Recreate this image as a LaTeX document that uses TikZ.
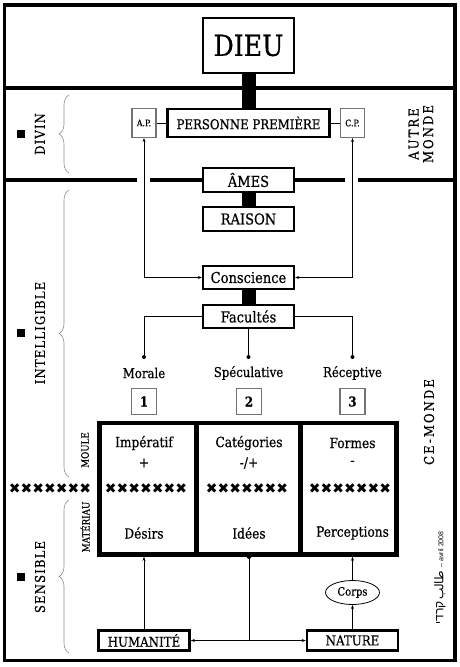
\documentclass[tikz,border=0pt]{standalone}
\usepackage{fontspec}
\setmainfont[FakeStretch=0.87,FakeBold=0.5]{DejaVu Serif}
\newfontfamily\spacedfont[LetterSpace=8,FakeStretch=0.87,FakeBold=0.4]{DejaVu Serif}
\newfontfamily\widefont[LetterSpace=15,FakeStretch=0.87,FakeBold=0.4]{DejaVu Serif}
\newfontfamily\symfont{DejaVu Sans}
\newfontfamily\arabicfont[Script=Arabic]{DejaVu Sans}
\newfontfamily\hebfont[Script=Hebrew]{Liberation Sans}
\newfontfamily\sigsans{Liberation Sans}
\usetikzlibrary{arrows.meta,decorations.pathreplacing,shapes.geometric}
\TeXXeTstate=1
\newcommand\fsz[1]{\fontsize{#1}{#1}\selectfont}
\begin{document}
\begin{tikzpicture}[x=1pt,y=-1pt,
  mainbox/.style={draw, line width=2.2pt, fill=white, minimum width=91pt, inner sep=0pt, font=\fsz{15}},
  smallbox/.style={draw=black!55, line width=1.1pt, fill=white, inner sep=0pt, minimum width=24pt},
  basebox/.style={draw, line width=2.5pt, fill=white, minimum width=91pt, minimum height=20pt, inner sep=0pt, font=\fsz{13.6}},
  bar/.style={line width=14pt},
  conn/.style={line width=0.7pt},
  both/.style={{Stealth[length=4pt,width=3pt]}-{Stealth[length=4pt,width=3pt]}},
  one/.style={-{Stealth[length=4pt,width=3pt]}},
  lbl/.style={font=\fsz{13.5}, inner sep=0pt},
  side/.style={rotate=90, font=\spacedfont\fsz{13.5}, inner sep=0pt},
  wside/.style={rotate=90, font=\widefont\fsz{13.5}, inner sep=0pt},
  brc/.style={draw=black!45, line width=0.6pt, decorate, decoration={brace, amplitude=10pt}},
  crosses/.style={font=\symfont\fsz{14}, inner sep=0pt},
  celltext/.style={font=\fsz{14}, inner sep=0pt}
]
\useasboundingbox (0,0) rectangle (460,667);
\fill[white] (0,0) rectangle (460,667);
% frame
\draw[line width=3.5pt] (4.5,5) rectangle (455,660.5);
\draw[line width=3.5pt] (4.5,88) -- (455,88);
\draw[line width=4pt] (4.5,180) -- (137,180);
\draw[line width=4pt] (150,180) -- (203,180);
\draw[line width=4pt] (294,180) -- (345,180);
\draw[line width=4pt] (358,180) -- (455,180);
% top column nodes
\node[mainbox, minimum height=55pt, font=\fsz{29}] (dieu) at (248.5,45.5) {DIEU};
\node[mainbox, minimum width=162pt, minimum height=28pt, font=\fsz{13.5}] (pp) at (248.5,123) {PERSONNE PREMIÈRE};
\node[smallbox, minimum height=29pt, font=\fsz{9}] (ap) at (144,123) {A.P.};
\node[smallbox, minimum height=29pt, font=\fsz{9}] (cp) at (352.5,123) {C.P.};
\node[mainbox, minimum height=24pt] (ames) at (248.5,180) {ÂMES};
\node[mainbox, minimum height=24pt] (raison) at (248.5,219) {RAISON};
\node[mainbox, minimum height=23pt] (cons) at (248.5,277.5) {Conscience};
\node[mainbox, minimum height=23pt] (fac) at (248.5,316.5) {Facultés};
\draw[bar] (dieu.south) -- (pp.north);
\draw[bar] (ames.south) -- (raison.north);
\draw[bar] (cons.south) -- (fac.north);
\draw[conn] (ap.east) -- (pp.west);
\draw[conn] (pp.east) -- (cp.west);
\draw[conn,both] (ap.south) |- (cons.west);
\draw[conn,both] (cp.south) |- (cons.east);
% faculties
\coordinate (dm) at (144,357);
\coordinate (ds) at (248.5,357);
\coordinate (dr) at (352.5,357);
\draw[conn] (fac.west) -| (dm);
\draw[conn] (fac.south) -- (ds);
\draw[conn] (fac.east) -| (dr);
\fill (dm) circle (2pt);
\fill (ds) circle (2pt);
\fill (dr) circle (2pt);
\node[lbl] (lm) at (144,373) {Morale};
\node[lbl] (ls) at (248.5,373) {Spéculative};
\node[lbl] (lr) at (352.5,373) {Réceptive};
\node[smallbox, minimum width=25pt, minimum height=26pt, font=\bfseries\fsz{13.5}] (n1) at (144,401.5) {1};
\node[smallbox, minimum width=25pt, minimum height=26pt, font=\bfseries\fsz{13.5}] (n2) at (249,401.5) {2};
\node[smallbox, minimum width=25pt, minimum height=26pt, font=\bfseries\fsz{13.5}] (n3) at (352.5,401.5) {3};
% big box
\node[draw, line width=4.5pt, minimum width=297pt, minimum height=131.5pt, inner sep=0pt] (mat) at (248,488.75) {};
\draw[line width=4.5pt] (196.5,423) -- (196.5,554.5);
\draw[line width=4.5pt] (300.5,423) -- (300.5,554.5);
\node[celltext] (t1a) at (144,443) {Impératif};
\node[celltext] (t1b) at (144,463) {+};
\node[celltext] (t1c) at (144,533) {Désirs};
\node[celltext] (t2a) at (249,443) {Catégories};
\node[celltext] (t2b) at (249,463) {-/+};
\node[celltext] (t2c) at (249,533) {Idées};
\node[celltext] (t3a) at (352.5,443) {Formes};
\node[celltext] (t3b) at (352.5,463) {-};
\node[celltext] (t3c) at (352.5,533) {Perceptions};
\node[crosses] (x0) at (50,489) {✖✖✖✖✖✖✖};
\node[crosses] (x1) at (146,489) {✖✖✖✖✖✖✖};
\node[crosses] (x2) at (247,489) {✖✖✖✖✖✖✖};
\node[crosses] (x3) at (350,489) {✖✖✖✖✖✖✖};
% bottom
\node[basebox] (hum) at (144,640.5) {HUMANITÉ};
\node[basebox] (nat) at (352.5,640.5) {NATURE};
\node[draw, ellipse, line width=0.8pt, minimum width=54pt, minimum height=24pt, inner sep=0pt, font=\fsz{11.5}] (corps) at (352.5,592.5) {Corps};
\draw[conn,one] (hum.north) -- (hum.north |- mat.south);
\draw[conn,one] (nat.north) -- (corps.south);
\draw[conn,one] (corps.north) -- (corps.north |- mat.south);
\coordinate (md) at (249,556.5);
\fill (md) circle (2.4pt);
\draw[conn] (md) -- (md |- hum.east);
\draw[conn,both] (hum.east) -- (nat.west);
% left labels
\fill (17,130) rectangle (25,138);
\fill (17,329) rectangle (25,337);
\fill (17,573) rectangle (25,581);
\node[side] (ldiv) at (40,134) {DIVIN};
\node[side] (lint) at (40,333) {INTELLIGIBLE};
\node[side] (lsen) at (40,577) {SENSIBLE};
\draw[brc] (69,173) -- (69,95);
\draw[brc] (69,477) -- (69,190);
\draw[brc] (69,653) -- (69,500);
\node[rotate=90, font=\fsz{10}, inner sep=0pt] (moule) at (85,450) {MOULE};
\node[rotate=90, font=\fsz{10}, inner sep=0pt] (materiau) at (85,527) {MATÉRIAU};
% right labels
\node[wside, align=center, font={\widefont\fontsize{13.5}{14.5}\selectfont}] (autre) at (421,134) {AUTRE\\MONDE};
\node[wside] (ce) at (429,422) {CE-MONDE};
\node[rotate=90, inner sep=0pt] (sig) at (440,578) {{\hebfont\fsz{12}\beginR קרדי\endR}\,{\arabicfont\fsz{12}\beginR طالب\endR}\,{\sigsans\fsz{7} – avril 2008}};
\end{tikzpicture}
\end{document}
